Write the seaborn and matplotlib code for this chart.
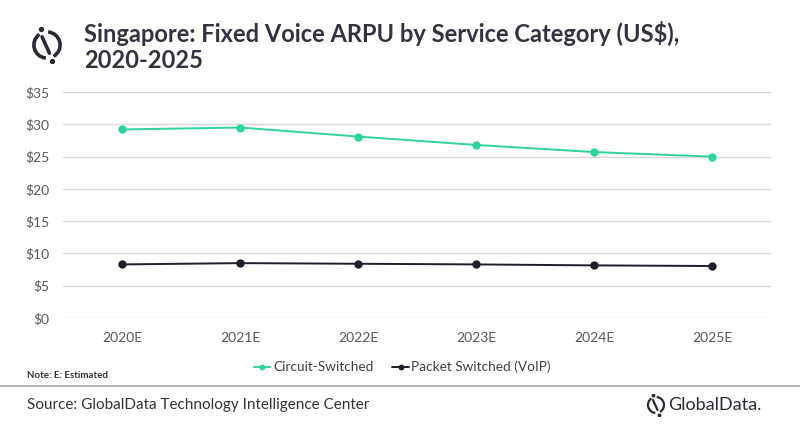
"""Singapore fixed voice ARPU line chart, GlobalData style."""

import matplotlib.pyplot as plt
from matplotlib.patches import Arc
import pandas as pd
import seaborn as sns

years = ['2020E', '2021E', '2022E', '2023E', '2024E', '2025E']
circuit_switched = [29.2, 29.5, 28.1, 26.8, 25.7, 25.0]
packet_switched = [8.3, 8.5, 8.4, 8.3, 8.15, 8.05]
series_names = ['Circuit-Switched', 'Packet Switched (VoIP)']
y_ticks = [0, 5, 10, 15, 20, 25, 30, 35]

df = pd.DataFrame({
    'year': years * 2,
    'arpu': circuit_switched + packet_switched,
    'series': [series_names[0]] * len(years) + [series_names[1]] * len(years),
})

sns.set_theme(style='white')
plt.rcParams['font.family'] = ['Lato', 'DejaVu Sans']

INK = '#2a2a35'


def draw_mark(ax, lw, dots=True):
    """GlobalData style circle mark."""
    ax.set_xlim(-1.1, 1.1)
    ax.set_ylim(-1.1, 1.1)
    ax.set_aspect('equal')
    ax.axis('off')
    ax.add_patch(Arc((0, 0), 1.6, 1.6, theta1=125, theta2=265, lw=lw, color=INK))
    ax.add_patch(Arc((0, 0), 1.6, 1.6, theta1=300, theta2=445, lw=lw, color=INK))
    ax.plot([-0.3, 0.15], [0.5, -0.5], color=INK, lw=lw, solid_capstyle='round')
    if dots:
        ax.plot([-0.35], [1.0], 'o', color=INK, ms=lw * 1.1)
        ax.plot([0.3], [-1.0], 'o', color=INK, ms=lw * 1.1)


fig = plt.figure(figsize=(8, 4.28), dpi=100)
ax = fig.add_axes([0.079, 0.257, 0.885, 0.528])

palette = {series_names[0]: '#2fd3a0', series_names[1]: '#1e1f2d'}
sns.lineplot(data=df, x='year', y='arpu', hue='series', palette=palette,
             marker='o', markersize=6, markeredgewidth=0, linewidth=1.4,
             sort=False, ax=ax, legend=True)

ax.set_ylim(0, 35)
ax.set_xlim(-0.5, len(years) - 0.5)
ax.set_yticks(y_ticks)
ax.set_yticklabels([f'${v}' for v in y_ticks])
ax.yaxis.grid(True, color='#d9d9d9', linewidth=1)
ax.set_axisbelow(True)
for s in ax.spines.values():
    s.set_visible(False)
ax.tick_params(axis='both', length=0, labelsize=10, colors='#595959')
ax.tick_params(axis='y', pad=10)
ax.tick_params(axis='x', pad=10)
ax.set_xlabel('')
ax.set_ylabel('')

# legend under the plot
handles, labels = ax.get_legend_handles_labels()
ax.get_legend().remove()
fig.legend(handles, labels, loc='center', bbox_to_anchor=(0.503, 1 - 367 / 428),
           ncol=2, frameon=False, fontsize=9.8, handlelength=1.2, markerscale=0.7,
           handletextpad=0.2, columnspacing=1.4, labelcolor='#404040')

# title
fig.text(84 / 800, 1 - 33 / 428, 'Singapore: Fixed Voice ARPU by Service Category (US$),',
         fontsize=17, fontweight='bold', color='#333340', va='center')
fig.text(84 / 800, 1 - 60 / 428, '2020-2025',
         fontsize=17, fontweight='bold', color='#333340', va='center')

# logo mark near title
draw_mark(fig.add_axes([29 / 800, 1 - 63 / 428, 36 / 800, 36 / 428]), 2.6)

# footer
fig.text(27 / 800, 1 - 375 / 428, 'Note: E: Estimated', fontsize=7,
         fontweight='bold', color='#333333', va='center')
fig.add_artist(plt.Line2D([0, 1], [1 - 386 / 428, 1 - 386 / 428],
                          color='#a6a6a6', linewidth=1.2))
fig.text(27 / 800, 1 - 405 / 428, 'Source: GlobalData Technology Intelligence Center',
         fontsize=11, color='#333333', va='center')
fig.text(668 / 800, 1 - 405 / 428, 'GlobalData.', fontsize=13, color=INK,
         va='center')
draw_mark(fig.add_axes([645 / 800, 1 - 418 / 428, 22 / 800, 26 / 428]), 1.6)

fig.savefig('out.png', dpi=100)
